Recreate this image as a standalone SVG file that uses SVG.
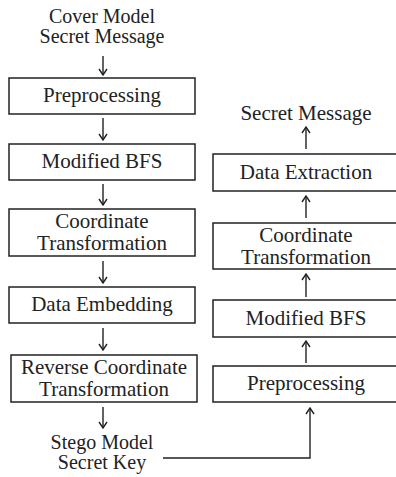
<svg xmlns="http://www.w3.org/2000/svg" width="396" height="477" viewBox="0 0 396 477">
<defs>
<style>
.box{fill:#fff;stroke:#222;stroke-width:1.5}
.t{font-size:21px;fill:#222;text-anchor:middle}
.s{font-size:20px}
.c{stroke:#222;stroke-width:1.4;fill:none}
</style>
<marker id="ah" viewBox="0 0 10 10" refX="9" refY="5" markerWidth="10" markerHeight="10" markerUnits="userSpaceOnUse" orient="auto">
<path d="M3,1 L9,5 L3,9" fill="none" stroke="#222" stroke-width="1.4"/>
</marker>
</defs>
<rect width="396" height="477" fill="#fff"/>
<g id="connectors">
<line class="c" x1="103" y1="56" x2="103" y2="75" marker-end="url(#ah)"/>
<line class="c" x1="103" y1="118" x2="103" y2="140" marker-end="url(#ah)"/>
<line class="c" x1="103" y1="184" x2="103" y2="205" marker-end="url(#ah)"/>
<line class="c" x1="103" y1="261" x2="103" y2="283" marker-end="url(#ah)"/>
<line class="c" x1="103" y1="328" x2="103" y2="350" marker-end="url(#ah)"/>
<line class="c" x1="103" y1="407" x2="103" y2="428" marker-end="url(#ah)"/>
<line class="c" x1="306" y1="149" x2="306" y2="127" marker-end="url(#ah)"/>
<line class="c" x1="306" y1="218" x2="306" y2="196" marker-end="url(#ah)"/>
<line class="c" x1="306" y1="297" x2="306" y2="274" marker-end="url(#ah)"/>
<line class="c" x1="306" y1="363" x2="306" y2="341" marker-end="url(#ah)"/>
<polyline class="c" points="163,458 310,458 310,408" marker-end="url(#ah)"/>
</g>
<g font-family="'Liberation Serif', 'DejaVu Serif', serif">
<g id="cover-input">
<text class="t s" x="102" y="23">Cover Model</text>
<text class="t s" x="102" y="43">Secret Message</text>
</g>
<g id="emb-preprocessing">
<rect class="box" x="9" y="78" width="186" height="36"/>
<text class="t" x="102" y="102">Preprocessing</text>
</g>
<g id="emb-modified-bfs">
<rect class="box" x="9" y="144" width="186" height="36"/>
<text class="t" x="102" y="168">Modified BFS</text>
</g>
<g id="emb-coordinate-transformation">
<rect class="box" x="9" y="209" width="186" height="47"/>
<text class="t" x="102" y="228">Coordinate</text>
<text class="t" x="102" y="250">Transformation</text>
</g>
<g id="emb-data-embedding">
<rect class="box" x="9" y="287" width="186" height="36"/>
<text class="t" x="102" y="311">Data Embedding</text>
</g>
<g id="emb-reverse-coordinate-transformation">
<rect class="box" x="11" y="355" width="186" height="47"/>
<text class="t" x="104" y="374">Reverse Coordinate</text>
<text class="t" x="104" y="396">Transformation</text>
</g>
<g id="stego-output">
<text class="t s" x="102" y="449">Stego Model</text>
<text class="t s" x="102" y="469">Secret Key</text>
</g>
<g id="ext-secret-message">
<text class="t" x="306" y="120">Secret Message</text>
</g>
<g id="ext-data-extraction">
<rect class="box" x="213" y="154" width="186" height="37"/>
<text class="t" x="306" y="179">Data Extraction</text>
</g>
<g id="ext-coordinate-transformation">
<rect class="box" x="213" y="223" width="186" height="46"/>
<text class="t" x="306" y="242">Coordinate</text>
<text class="t" x="306" y="264">Transformation</text>
</g>
<g id="ext-modified-bfs">
<rect class="box" x="213" y="300" width="186" height="37"/>
<text class="t" x="306" y="325">Modified BFS</text>
</g>
<g id="ext-preprocessing">
<rect class="box" x="213" y="366" width="186" height="36"/>
<text class="t" x="306" y="390">Preprocessing</text>
</g>
</g>
</svg>
